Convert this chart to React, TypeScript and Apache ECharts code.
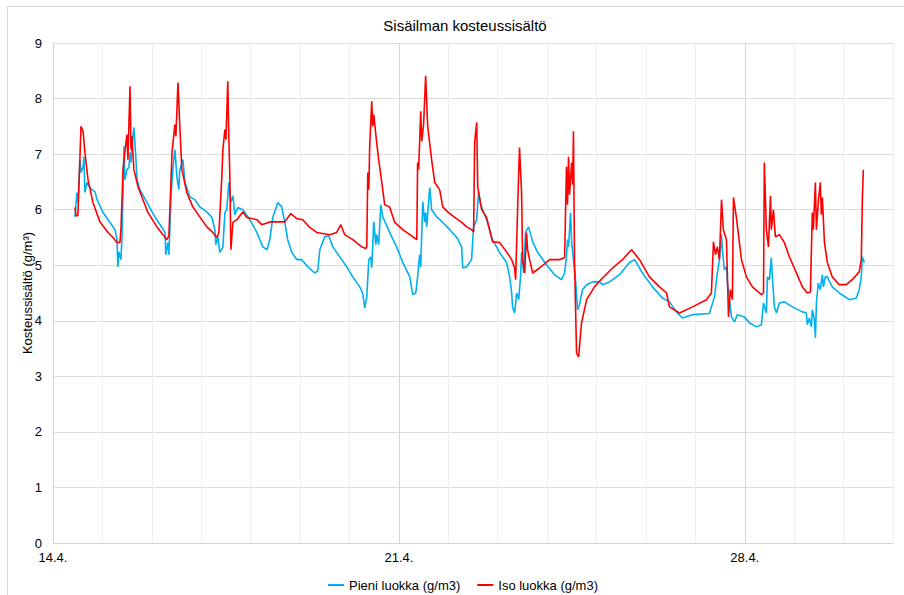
import React, { useEffect, useRef } from "react";
import * as echarts from "echarts";

// x = hours since 14.4. 00:00, y = g/m3
const pieniLuokka: [number, number][] = [
  [10.7, 5.87], [11.6, 6.31], [12.1, 6.13], [13.1, 6.9], [13.6, 6.67], [14.6, 6.77], [15.0, 6.95], [15.5, 6.31],
  [16.5, 6.49], [17.0, 6.45], [18.9, 6.36], [20.4, 6.32], [21.4, 6.18], [24.3, 5.95], [27.7, 5.77], [30.1, 5.64],
  [31.1, 5.46], [31.5, 4.97], [32.0, 5.24], [33.0, 5.1], [33.5, 5.51], [34.5, 7.14], [34.9, 6.54], [35.9, 6.72],
  [36.9, 6.76], [37.4, 7.03], [37.9, 6.85], [38.8, 7.32], [39.3, 7.48], [40.3, 6.9], [40.8, 6.54], [42.2, 6.36],
  [45.6, 6.13], [49.5, 5.87], [52.9, 5.68], [54.4, 5.59], [54.8, 5.19], [55.8, 5.41], [56.3, 5.19], [57.3, 6.23],
  [58.2, 6.72], [59.2, 7.08], [60.2, 6.59], [61.1, 6.36], [61.6, 6.72], [63.1, 6.9], [64.1, 6.49], [66.5, 6.23],
  [68.9, 6.18], [71.3, 6.05], [74.7, 5.96], [77.2, 5.86], [78.6, 5.64], [79.1, 5.37], [80.1, 5.51], [81.0, 5.23],
  [82.5, 5.32], [83.5, 5.95], [84.4, 6.0], [85.4, 6.49], [86.4, 6.13], [87.4, 6.25], [88.3, 5.91], [89.8, 6.04],
  [92.2, 6.0], [95.6, 5.82], [99.0, 5.59], [101.9, 5.33], [103.9, 5.28], [105.3, 5.46], [106.8, 5.87], [109.2, 6.13],
  [111.1, 6.05], [112.6, 5.77], [114.0, 5.46], [116.0, 5.23], [118.4, 5.1], [120.8, 5.1], [123.8, 4.97], [127.1, 4.86],
  [128.6, 4.9], [129.6, 5.28], [132.0, 5.51], [133.9, 5.53], [135.9, 5.33], [139.3, 5.15], [142.7, 4.97], [145.6, 4.79],
  [149.0, 4.61], [150.4, 4.5], [151.4, 4.23], [152.4, 4.43], [153.4, 5.1], [154.3, 5.15], [154.8, 4.95], [155.8, 5.78],
  [156.8, 5.37], [157.2, 5.55], [158.2, 5.37], [159.2, 6.09], [160.2, 5.87], [163.5, 5.59], [166.9, 5.33], [169.9, 5.05],
  [173.3, 4.79], [174.7, 4.47], [176.2, 4.5], [177.1, 4.79], [178.1, 5.19], [178.6, 4.97], [179.6, 6.14], [180.5, 5.78],
  [181.0, 5.95], [181.5, 5.69], [183.0, 6.4], [183.9, 6.0], [186.4, 5.87], [189.3, 5.77], [192.7, 5.64], [196.1, 5.5],
  [198.5, 5.33], [199.0, 4.95], [200.9, 4.97], [203.3, 5.1], [204.3, 5.69], [205.8, 5.82], [206.7, 6.32], [207.7, 6.09],
  [208.7, 6.0], [210.6, 5.82], [213.5, 5.46], [216.9, 5.23], [220.3, 5.05], [221.8, 4.79], [222.8, 4.5], [223.2, 4.25],
  [224.2, 4.14], [225.2, 4.5], [226.2, 4.38], [227.1, 4.79], [227.6, 5.23], [228.6, 4.86], [229.5, 5.59], [231.0, 5.69],
  [233.0, 5.42], [235.4, 5.23], [239.7, 5.01], [243.6, 4.83], [247.0, 4.74], [248.5, 4.86], [249.4, 5.15], [249.9, 5.46],
  [250.4, 5.33], [251.4, 5.95], [251.9, 5.41], [252.8, 5.1], [253.8, 4.74], [254.8, 4.2], [255.7, 4.29], [257.2, 4.56],
  [259.2, 4.65], [262.1, 4.7], [265.5, 4.7], [266.9, 4.65], [270.3, 4.7], [275.2, 4.83], [280.0, 5.05], [282.5, 5.1],
  [286.3, 4.86], [291.2, 4.61], [296.0, 4.41], [299.4, 4.34], [302.8, 4.16], [305.7, 4.05], [310.6, 4.11], [318.8, 4.13],
  [321.3, 4.43], [322.7, 4.86], [323.7, 5.1], [324.7, 5.55], [325.1, 5.28], [326.1, 4.92], [327.1, 4.97], [327.6, 4.68],
  [328.6, 4.38], [329.5, 4.07], [331.0, 3.98], [332.4, 4.11], [335.8, 4.07], [338.3, 3.96], [341.7, 3.89], [344.1, 3.93],
  [345.1, 4.32], [346.5, 4.14], [347.0, 4.79], [348.0, 4.74], [348.9, 5.14], [349.4, 4.79], [350.4, 4.25], [351.4, 4.14],
  [352.8, 4.32], [355.2, 4.34], [359.1, 4.25], [364.0, 4.16], [365.9, 4.14], [366.4, 3.93], [367.4, 4.05], [368.4, 3.89],
  [368.8, 4.2], [369.8, 4.02], [370.3, 3.69], [370.8, 4.32], [371.7, 4.68], [372.7, 4.56], [373.7, 4.83], [374.2, 4.61],
  [375.1, 4.79], [376.1, 4.79], [378.5, 4.61], [381.9, 4.5], [386.8, 4.38], [390.2, 4.41], [391.6, 4.56], [392.6, 4.79],
  [393.1, 5.15], [394.1, 5.05],
];

const isoLuokka: [number, number][] = [
  [10.7, 6.04], [11.2, 5.89], [12.1, 5.89], [13.6, 7.5], [14.6, 7.41], [15.5, 7.03], [17.0, 6.54], [19.4, 6.13],
  [22.8, 5.78], [26.7, 5.59], [29.1, 5.5], [31.1, 5.41], [32.5, 5.41], [33.0, 5.64], [34.0, 6.72], [34.9, 7.03],
  [35.9, 7.35], [36.4, 6.9], [37.4, 8.22], [37.9, 7.08], [38.3, 7.32], [39.3, 6.72], [41.3, 6.41], [43.7, 6.18],
  [46.1, 5.95], [50.5, 5.69], [53.4, 5.55], [55.3, 5.46], [56.3, 5.53], [57.8, 7.03], [59.2, 7.53], [59.7, 7.32],
  [60.7, 8.29], [61.6, 7.5], [62.6, 6.72], [65.0, 6.31], [67.9, 6.05], [71.3, 5.87], [74.7, 5.69], [77.6, 5.59],
  [79.6, 5.5], [80.6, 5.59], [82.0, 6.59], [82.5, 7.08], [83.5, 7.44], [84.0, 7.26], [84.9, 8.31], [85.4, 7.32],
  [85.9, 6.59], [86.4, 5.28], [87.4, 5.77], [89.3, 5.82], [92.2, 5.96], [94.1, 5.86], [99.0, 5.82], [101.4, 5.73],
  [105.3, 5.78], [112.6, 5.78], [115.5, 5.93], [118.4, 5.84], [121.3, 5.82], [124.7, 5.68], [128.1, 5.59], [134.4, 5.55],
  [137.8, 5.59], [139.8, 5.73], [141.7, 5.55], [145.6, 5.46], [150.0, 5.33], [151.9, 5.3], [152.4, 5.33], [152.9, 6.67],
  [153.4, 6.36], [153.8, 7.12], [154.8, 7.95], [155.3, 7.5], [155.8, 7.71], [157.2, 7.21], [158.2, 6.9], [159.7, 6.49],
  [161.1, 6.09], [163.5, 6.05], [166.0, 5.77], [169.9, 5.64], [173.3, 5.55], [176.7, 5.46], [177.1, 6.85], [177.6, 6.72],
  [178.6, 7.77], [179.1, 7.23], [180.0, 7.53], [181.0, 8.41], [182.0, 7.5], [183.9, 6.9], [185.4, 6.49], [187.8, 6.36],
  [189.3, 6.05], [191.7, 5.96], [195.1, 5.86], [198.5, 5.77], [200.9, 5.69], [203.3, 5.64], [204.3, 5.6], [204.8, 7.21],
  [205.8, 7.57], [206.3, 6.41], [208.2, 6.0], [210.6, 5.86], [213.5, 5.42], [216.9, 5.41], [220.3, 5.24], [222.8, 5.1],
  [224.2, 4.95], [224.7, 4.74], [225.7, 6.05], [226.6, 7.12], [227.6, 6.31], [228.1, 5.1], [229.1, 4.86], [230.0, 5.59],
  [230.5, 5.28], [231.5, 5.1], [233.0, 4.86], [236.3, 4.95], [241.2, 5.1], [246.0, 5.1], [248.5, 5.14], [249.4, 6.77],
  [249.9, 6.09], [250.4, 6.95], [250.9, 6.27], [251.9, 6.85], [252.4, 6.45], [252.8, 7.41], [253.3, 5.1], [254.3, 3.42],
  [255.3, 3.35], [256.7, 3.96], [259.2, 4.38], [263.0, 4.61], [266.9, 4.77], [271.8, 4.95], [276.6, 5.1], [281.0, 5.28],
  [284.9, 5.1], [289.7, 4.79], [294.6, 4.61], [298.0, 4.5], [299.4, 4.25], [304.3, 4.14], [310.6, 4.25], [317.4, 4.38],
  [319.8, 4.5], [320.8, 5.42], [321.8, 5.19], [322.7, 5.33], [323.7, 5.1], [324.7, 6.18], [325.6, 5.64], [327.1, 5.46],
  [328.1, 4.07], [329.0, 4.56], [330.0, 4.38], [330.5, 6.22], [331.9, 5.87], [334.4, 5.1], [336.8, 4.79], [339.7, 4.61],
  [344.1, 4.47], [345.1, 4.5], [345.5, 6.85], [346.5, 5.64], [347.5, 5.33], [348.5, 6.25], [348.9, 5.64], [349.9, 6.0],
  [350.9, 5.51], [352.8, 5.55], [355.2, 5.41], [357.7, 5.15], [361.1, 4.86], [364.0, 4.61], [366.4, 4.5], [367.9, 4.52],
  [368.8, 5.95], [369.3, 5.64], [370.3, 6.49], [370.8, 5.64], [371.7, 6.13], [372.7, 6.49], [373.2, 5.91], [373.7, 6.22],
  [374.7, 5.41], [376.1, 5.05], [378.5, 4.79], [381.9, 4.65], [385.3, 4.65], [388.2, 4.74], [391.6, 4.88], [392.6, 5.1],
  [393.1, 6.18], [393.6, 6.72],
];

const seriesNames = ["Pieni luokka (g/m3)", "Iso luokka (g/m3)"];
const seriesColors = ["#00B0F0", "#FF0000"];
const xMinHours = 0;
const xMaxHours = 408;
const xStepHours = 24;
const majorEveryHours = 168;
const yTicks = [0, 1, 2, 3, 4, 5, 6, 7, 8, 9];

const FONT = "'Liberation Sans', Arial, sans-serif";

function dateLabel(h: number): string {
  const d = new Date(2020, 3, 14);
  d.setDate(d.getDate() + Math.round(h / 24));
  return `${d.getDate()}.${d.getMonth() + 1}.`;
}

export default function App() {
  const ref = useRef<HTMLDivElement>(null);
  useEffect(() => {
    if (!ref.current) return;
    const chart = echarts.init(ref.current, undefined, { renderer: "svg" });
    const vColors = [] as string[];
    for (let i = 0; i < majorEveryHours / xStepHours; i++) vColors.push(i === 0 ? "#d6d6d6" : "#efefef");
    chart.setOption({
      animation: false,
      backgroundColor: "#ffffff",
      textStyle: { fontFamily: FONT },
      title: {
        text: "Sisäilman kosteussisältö",
        left: 460,
        top: 13,
        textAlign: "center",
        textStyle: { fontFamily: FONT, fontSize: 15, fontWeight: "normal", color: "#000" },
      },
      graphic: [
        {
          type: "rect",
          shape: { x: 7.5, y: 6.5, width: 900, height: 600 },
          style: { fill: "none", stroke: "#d9d9d9", lineWidth: 1 },
          silent: true,
        },
      ],
      legend: {
        data: seriesNames,
        left: 323,
        top: 572,
        icon: "rect",
        itemWidth: 16,
        itemHeight: 2,
        itemGap: 17,
        textStyle: { fontFamily: FONT, fontSize: 13, color: "#000", lineHeight: 16 },
      },
      grid: { left: 53, right: 11, top: 43, bottom: 52 },
      xAxis: {
        type: "value",
        min: xMinHours,
        max: xMaxHours,
        interval: xStepHours,
        axisLine: { show: true, lineStyle: { color: "#d6d6d6", width: 1 } },
        axisTick: { show: false },
        axisLabel: {
          color: "#000",
          fontSize: 13,
          fontFamily: FONT,
          margin: 8,
          showMaxLabel: false,
          formatter: (v: number) => (v % majorEveryHours === 0 ? dateLabel(v) : ""),
        },
        splitLine: { show: true, lineStyle: { color: vColors, width: 1 } },
      },
      yAxis: {
        type: "value",
        min: yTicks[0],
        max: yTicks[yTicks.length - 1],
        interval: 1,
        name: "Kosteussisältö (g/m³)",
        nameLocation: "middle",
        nameGap: 19,
        nameMoveOverlap: false,
        nameTextStyle: { fontFamily: FONT, fontSize: 13, color: "#000" },
        axisLine: { show: true, lineStyle: { color: "#d6d6d6", width: 1 } },
        axisTick: { show: false },
        axisLabel: { color: "#000", fontSize: 13, fontFamily: FONT, margin: 11 },
        splitLine: { show: true, lineStyle: { color: "#dcdcdc", width: 1 } },
      },
      series: [
        {
          name: seriesNames[0],
          type: "line",
          data: pieniLuokka,
          showSymbol: false,
          symbol: "none",
          color: seriesColors[0],
          lineStyle: { color: seriesColors[0], width: 1.6 },
          z: 2,
        },
        {
          name: seriesNames[1],
          type: "line",
          data: isoLuokka,
          showSymbol: false,
          symbol: "none",
          color: seriesColors[1],
          lineStyle: { color: seriesColors[1], width: 1.6 },
          z: 3,
        },
      ],
    });
    return () => chart.dispose();
  }, []);
  return (
    <div
      ref={ref}
      style={{ position: "absolute", left: 0, top: 0, width: 904, height: 595 }}
    />
  );
}
